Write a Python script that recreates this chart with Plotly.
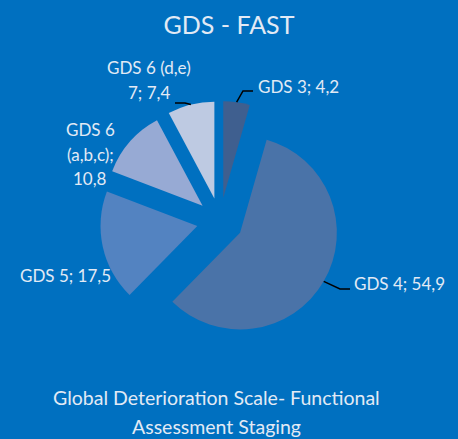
import math
import plotly.graph_objects as go

# ---- data ----
categories = ["GDS 3", "GDS 4", "GDS 5", "GDS 6<br>(a,b,c)", "GDS 6 (d,e)<br>7"]
values = [4.2, 54.9, 17.5, 10.8, 7.4]
title_text = "GDS - FAST"
caption_lines = ["Global Deterioration Scale- Functional", "Assessment Staging"]

# ---- style / layout ----
slice_colors = ["#3F5F8F", "#4A73A8", "#5383C1", "#97AAD4", "#BECAE2"]
BG = "#0070C0"
TXT = "#E2EAF5"
FONT = "Lato, 'Open Sans', sans-serif"
W, H = 458, 439
CX, CY, HALF = 220, 221, 120          # pie box centre / half size (px)
PULL = 0.24
R = HALF / (1 + PULL)

# label placement (px): anchor x, block centre y, x-anchor, value on new line, leader end
label_pos = [
    dict(x=256, y=86, xa="left", newline=False, leader=(253, 91)),
    dict(x=352, y=283, xa="left", newline=False, leader=(350, 289)),
    dict(x=18, y=275, xa="left", newline=False, leader=None),
    dict(x=90, y=154, xa="center", newline=True, leader=None),
    dict(x=149, y=80, xa="center", newline=False, leader=(175, 103)),
]
LINE_STEP = 25


def px(x):
    return x / W


def py(y):
    return 1 - y / H


def fmt(v):
    return f"{v:g}".replace(".", ",")


fig = go.Figure(go.Pie(
    labels=categories,
    values=values,
    sort=False,
    direction="clockwise",
    rotation=0,
    pull=PULL,
    marker=dict(colors=slice_colors, line=dict(width=0)),
    textinfo="none",
    showlegend=False,
    hoverinfo="label+value",
    domain=dict(x=[px(CX - HALF), px(CX + HALF)], y=[py(CY + HALF), py(CY - HALF)]),
))

annotations = []
shapes = []
total = sum(values)
cum = 0.0
for cat, val, lp in zip(categories, values, label_pos):
    mid = (cum + val / 2) / total * 2 * math.pi
    cum += val
    sep = ";<br>" if lp["newline"] else "; "
    lines = (cat + sep + fmt(val)).split("<br>")
    n = len(lines)
    for i, line in enumerate(lines):
        yy = lp["y"] + (i - (n - 1) / 2) * LINE_STEP
        annotations.append(dict(
            text=line, x=px(lp["x"]), y=py(yy), xref="paper", yref="paper",
            xanchor=lp["xa"], yanchor="middle", showarrow=False,
            font=dict(color=TXT, size=17, family=FONT),
        ))
    if lp["leader"]:
        # start of leader: outer arc of the pulled slice at its mid angle
        sx = CX + (1 + PULL) * R * math.sin(mid)
        sy = CY - (1 + PULL) * R * math.cos(mid)
        ex, ey = lp["leader"]
        elbow_x = ex - 10 if ex > sx else ex + 10
        shapes.append(dict(
            type="path", xref="paper", yref="paper",
            path=f"M {px(sx)} {py(sy)} L {px(elbow_x)} {py(ey)} L {px(ex)} {py(ey)}",
            line=dict(color="black", width=1.5),
        ))

for i, line in enumerate(caption_lines):
    annotations.append(dict(
        text=line, x=px(216), y=py(397 + i * 29), xref="paper", yref="paper",
        xanchor="center", yanchor="middle", showarrow=False,
        font=dict(color=TXT, size=19.5, family=FONT),
    ))

fig.update_layout(
    width=W, height=H,
    paper_bgcolor=BG, plot_bgcolor=BG,
    margin=dict(l=0, r=0, t=0, b=0),
    separators=", ",
    title=dict(text=title_text, x=0.5, xanchor="center", y=py(25), yanchor="middle",
               font=dict(color=TXT, size=25, family=FONT)),
    annotations=annotations,
    shapes=shapes,
)

fig.write_html("out.html", config={"displayModeBar": False},
               post_script="document.body.style.margin='0';document.body.style.overflow='hidden';")
